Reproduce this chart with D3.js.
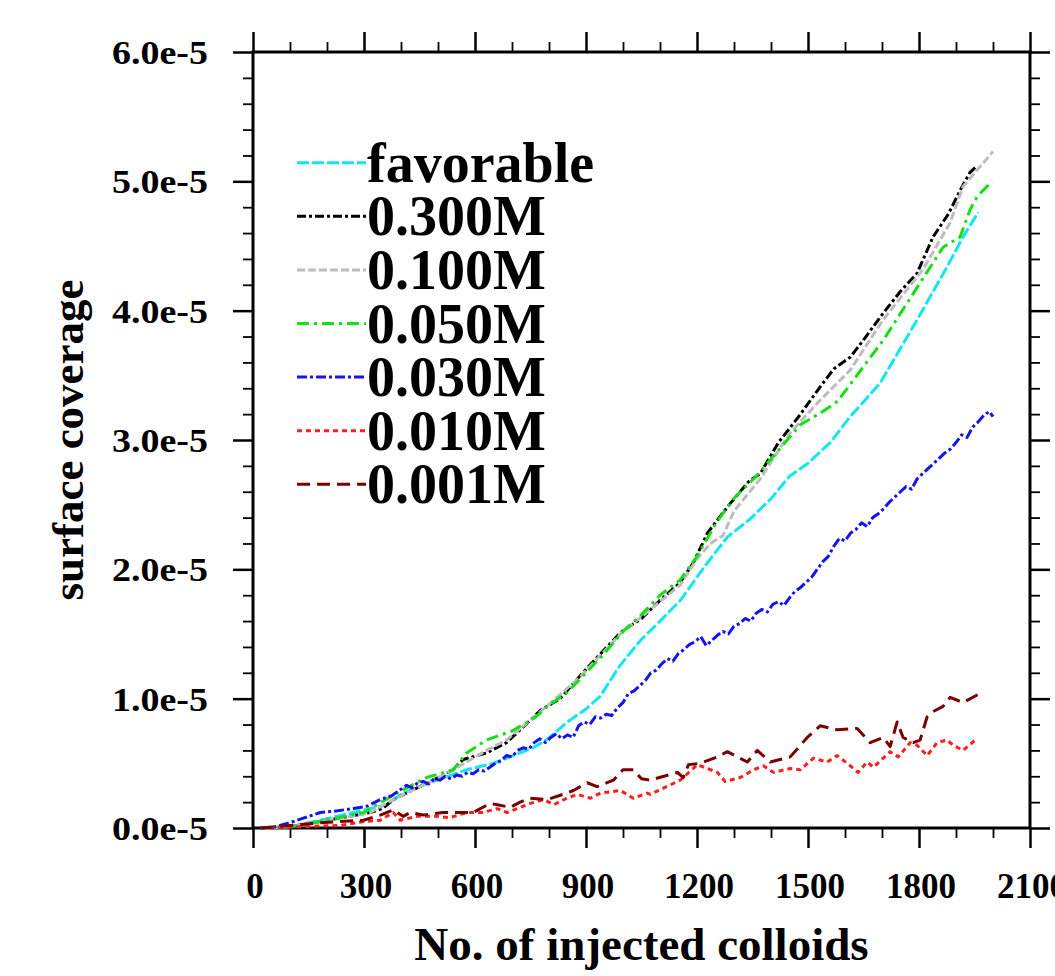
<!DOCTYPE html>
<html><head><meta charset="utf-8">
<script src="https://cdn.jsdelivr.net/npm/d3@7"></script>
<style>
html,body{margin:0;padding:0;background:#fff;}
svg text{font-family:"Liberation Serif","Times New Roman",serif;font-weight:bold;fill:#000;}
</style></head>
<body><svg id="c" width="1055" height="976"></svg>
<script>
// ---- data (surface coverage in units of 1e-5) ----
const seriesNames = ["favorable","0.300M","0.100M","0.050M","0.030M","0.010M","0.001M"];
const xTicksMajor = [0,300,600,900,1200,1500,1800,2100];
const yTicksMajor = [0,1,2,3,4,5,6];

const favorable = [[20,0],[100,0.01],[182,0.06],[271,0.12],[361,0.18],[406,0.27],[487,0.36],[577,0.45],[649,0.50],[757,0.62],[793,0.68],[850,0.82],[900,0.92],[939,1.02],[990,1.25],[1047,1.45],[1100,1.60],[1155,1.76],[1220,2.02],[1282,2.25],[1340,2.38],[1398,2.54],[1450,2.72],[1500,2.82],[1560,2.98],[1614,3.18],[1695,3.44],[1795,3.93],[1876,4.34],[1919,4.57],[1960,4.76]];
const m0300 = [[20,0],[100,0.01],[182,0.05],[317,0.12],[350,0.15],[379,0.22],[415,0.27],[487,0.37],[541,0.45],[568,0.53],[631,0.58],[685,0.66],[730,0.78],[777,0.91],[830,1.00],[885,1.18],[940,1.35],[993,1.51],[1050,1.62],[1100,1.76],[1155,1.90],[1190,2.05],[1228,2.28],[1290,2.51],[1340,2.68],[1371,2.74],[1420,2.98],[1480,3.20],[1530,3.40],[1570,3.55],[1614,3.64],[1649,3.77],[1703,3.98],[1750,4.15],[1795,4.29],[1838,4.57],[1880,4.75],[1911,4.93],[1938,5.07],[1957,5.12]];
const m0100 = [[20,0],[100,0.01],[182,0.05],[317,0.12],[379,0.22],[415,0.27],[487,0.37],[541,0.45],[631,0.60],[685,0.68],[777,0.90],[885,1.17],[993,1.50],[1100,1.75],[1155,1.88],[1200,2.08],[1236,2.20],[1270,2.26],[1300,2.45],[1371,2.70],[1450,3.05],[1530,3.30],[1614,3.54],[1703,3.93],[1811,4.32],[1884,4.68],[1919,4.96],[1973,5.14],[2000,5.23]];
const m0050 = [[20,0],[100,0.01],[182,0.05],[300,0.12],[388,0.27],[469,0.39],[541,0.45],[577,0.58],[631,0.68],[700,0.75],[760,0.85],[800,0.95],[850,1.05],[900,1.20],[950,1.35],[1000,1.52],[1050,1.65],[1100,1.80],[1155,1.92],[1200,2.10],[1250,2.35],[1300,2.55],[1360,2.72],[1420,2.92],[1480,3.12],[1540,3.22],[1580,3.30],[1614,3.43],[1703,3.77],[1795,4.18],[1865,4.49],[1911,4.57],[1938,4.78],[1957,4.88],[1973,4.93],[1998,5.00]];
const m0030 = [[20,0],[60,0.01],[109,0.05],[140,0.08],[182,0.12],[220,0.13],[271,0.15],[310,0.17],[344,0.22],[375,0.25],[400,0.30],[415,0.33],[430,0.31],[445,0.35],[460,0.36],[475,0.34],[490,0.38],[505,0.37],[520,0.40],[535,0.38],[550,0.41],[565,0.40],[580,0.43],[595,0.42],[610,0.45],[625,0.44],[640,0.47],[655,0.50],[670,0.52],[685,0.56],[700,0.55],[715,0.60],[730,0.62],[745,0.61],[760,0.66],[775,0.69],[790,0.66],[805,0.70],[820,0.73],[835,0.69],[850,0.72],[865,0.70],[880,0.79],[895,0.82],[910,0.80],[925,0.86],[940,0.85],[955,0.88],[970,0.87],[985,0.93],[1000,0.97],[1015,1.04],[1030,1.06],[1045,1.10],[1060,1.14],[1075,1.20],[1090,1.22],[1105,1.27],[1120,1.31],[1135,1.29],[1150,1.35],[1165,1.38],[1180,1.42],[1195,1.44],[1210,1.48],[1225,1.41],[1240,1.45],[1255,1.49],[1270,1.52],[1285,1.50],[1300,1.56],[1315,1.58],[1330,1.62],[1345,1.60],[1360,1.66],[1375,1.69],[1390,1.67],[1405,1.73],[1420,1.75],[1435,1.72],[1450,1.78],[1465,1.83],[1480,1.86],[1495,1.90],[1510,1.94],[1525,2.00],[1540,2.06],[1555,2.10],[1570,2.18],[1585,2.24],[1600,2.22],[1615,2.28],[1630,2.31],[1645,2.36],[1660,2.33],[1675,2.40],[1690,2.43],[1705,2.47],[1720,2.52],[1735,2.56],[1750,2.60],[1765,2.64],[1780,2.62],[1795,2.70],[1810,2.74],[1825,2.78],[1840,2.82],[1855,2.86],[1870,2.90],[1885,2.93],[1900,2.98],[1915,3.04],[1930,3.02],[1945,3.10],[1960,3.14],[1975,3.19],[1990,3.22],[2000,3.18]];
const m0010 = [[20,0],[236,0.02],[299,0.05],[344,0.06],[379,0.12],[398,0.06],[444,0.09],[498,0.09],[532,0.08],[578,0.12],[622,0.12],[660,0.15],[687,0.12],[714,0.15],[749,0.19],[786,0.22],[813,0.18],[840,0.22],[876,0.26],[912,0.23],[939,0.27],[993,0.29],[1028,0.23],[1065,0.27],[1074,0.26],[1155,0.37],[1201,0.49],[1255,0.43],[1276,0.36],[1317,0.39],[1353,0.45],[1380,0.48],[1407,0.43],[1452,0.46],[1479,0.45],[1515,0.54],[1552,0.51],[1579,0.56],[1606,0.50],[1635,0.43],[1660,0.51],[1677,0.47],[1722,0.59],[1744,0.55],[1776,0.66],[1795,0.64],[1822,0.56],[1849,0.66],[1876,0.68],[1892,0.64],[1919,0.60],[1952,0.68]];
const m0001 = [[20,0],[182,0.04],[236,0.05],[299,0.06],[344,0.10],[379,0.14],[406,0.09],[425,0.12],[460,0.10],[514,0.12],[568,0.12],[595,0.12],[641,0.19],[660,0.18],[695,0.16],[722,0.20],[749,0.23],[795,0.22],[838,0.26],[866,0.29],[903,0.35],[930,0.32],[974,0.37],[1000,0.45],[1028,0.45],[1050,0.38],[1074,0.37],[1147,0.43],[1163,0.39],[1177,0.49],[1209,0.50],[1255,0.55],[1282,0.59],[1336,0.51],[1363,0.60],[1398,0.51],[1452,0.55],[1498,0.70],[1533,0.79],[1579,0.76],[1633,0.77],[1668,0.66],[1703,0.70],[1722,0.63],[1741,0.82],[1757,0.70],[1784,0.66],[1803,0.68],[1822,0.86],[1838,0.90],[1865,0.94],[1884,1.01],[1919,0.97],[1965,1.04]];

const seriesData = [favorable,m0300,m0100,m0050,m0030,m0010,m0001];
const colors = ["#12e6f2","#000000","#bdbdbd","#14e014","#1414f0","#ff1e1e","#7a0000"];
const dashes = ["12,3","9,3,3,3","8,3","12,5,3,5","10,3,3,3","5,4","13,7"];

// ---- layout ----
const L=253,R=1030,T=52,B=828;
const svg=d3.select("#c");
const x=d3.scaleLinear().domain([0,2100]).range([L,R]);
const y=d3.scaleLinear().domain([0,6]).range([B,T]);

const minorX=d3.range(0,2101,100).filter(v=>v%300!==0);
const minorY=d3.range(0,31).map(i=>i*0.2).filter(v=>Math.abs(v-Math.round(v))>1e-6);

function styleAxis(g){
  g.selectAll(".domain").remove();
  g.selectAll("line").attr("stroke","#000").attr("stroke-width",2.5);
  g.selectAll("text").remove();
}
[[d3.axisBottom(x),`translate(0,${B})`,xTicksMajor,minorX],
 [d3.axisTop(x),`translate(0,${T})`,xTicksMajor,minorX],
 [d3.axisLeft(y),`translate(${L},0)`,yTicksMajor,minorY],
 [d3.axisRight(y),`translate(${R},0)`,yTicksMajor,minorY]].forEach(([ax,tr,maj,mn])=>{
  svg.append("g").attr("transform",tr).call(ax.tickValues(maj).tickSize(20).tickSizeOuter(0)).call(styleAxis);
  svg.append("g").attr("transform",tr).call(ax.tickValues(mn).tickSize(10).tickSizeOuter(0)).call(g=>{styleAxis(g);g.selectAll("line").attr("stroke-width",1.8);});
});

svg.append("rect").attr("x",L).attr("y",T).attr("width",R-L).attr("height",B-T)
  .attr("fill","none").attr("stroke","#000").attr("stroke-width",3);

// tick labels
svg.append("g").selectAll("text").data(xTicksMajor).join("text")
  .attr("x",d=>x(d)+2).attr("y",898).attr("text-anchor","middle")
  .attr("font-size",35).text(d=>d);
svg.append("g").selectAll("text").data(yTicksMajor).join("text")
  .attr("x",208).attr("y",d=>y(d)+12).attr("text-anchor","end")
  .attr("font-size",34).attr("textLength",96).attr("lengthAdjust","spacingAndGlyphs")
  .text(d=>d.toFixed(1)+"e-5");

// axis titles
svg.append("text").attr("x",(L+R)/2).attr("y",960).attr("text-anchor","middle")
  .attr("font-size",47).text("No. of injected colloids");
svg.append("text").attr("transform",`translate(83,${(T+B)/2}) rotate(-90)`)
  .attr("text-anchor","middle").attr("font-size",45).text("surface coverage");

// lines
const line=d3.line().x(d=>x(d[0])).y(d=>y(d[1]));
svg.append("g").selectAll("path").data(seriesData).join("path")
  .attr("d",line).attr("fill","none")
  .attr("stroke",(d,i)=>colors[i]).attr("stroke-width",3)
  .attr("stroke-dasharray",(d,i)=>dashes[i]).attr("stroke-linejoin","round");

// legend
const lg=svg.append("g");
seriesNames.forEach((n,i)=>{
  const by=181.7+53.6*i;
  lg.append("line").attr("x1",297).attr("x2",366).attr("y1",by-19).attr("y2",by-19)
    .attr("stroke",colors[i]).attr("stroke-width",3).attr("stroke-dasharray",dashes[i]);
  lg.append("text").attr("x",367).attr("y",by).attr("font-size",56).text(n);
});
</script></body></html>
